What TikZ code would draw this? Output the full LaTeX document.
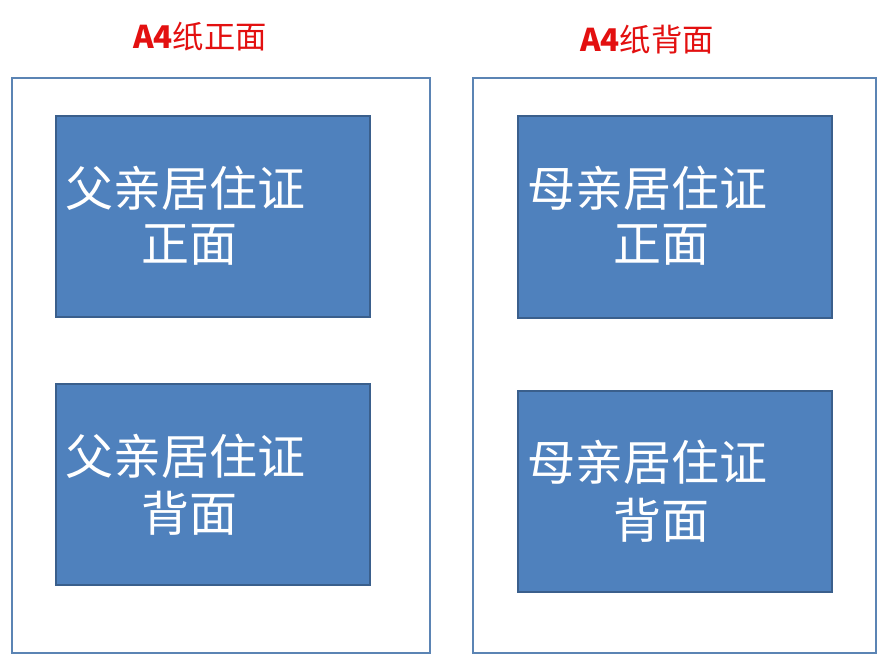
\documentclass[tikz,border=0pt]{standalone}
\usepackage{fontspec}
\setmainfont{Liberation Sans}
\newfontfamily\cjk{Noto Sans CJK SC}
\definecolor{pagecol}{HTML}{5B84B4}
\definecolor{cardfill}{HTML}{4F81BD}
\definecolor{cardline}{HTML}{3A5F8C}
\definecolor{titlered}{HTML}{E31010}
\begin{document}
\begin{tikzpicture}[x=0.75pt,y=-0.75pt,
  page/.style={draw=pagecol,line width=2pt},
  card/.style={draw=cardline,fill=cardfill,line width=2pt},
  cardtext/.style={text=white,font=\cjk\fontsize{36}{42}\selectfont,inner sep=0pt},
  titletext/.style={text=titlered,font=\cjk\fontsize{23.5}{28}\selectfont,inner sep=0pt}]
\useasboundingbox (0,0) rectangle (887,665);
\fill[white] (0,0) rectangle (887,665);
% pages
\draw[page] (12,78) rectangle (430,653);
\draw[page] (473,78) rectangle (876,653);
% titles
\node[titletext] (t1) at (200,37) {{\bfseries A4}纸正面};
\node[titletext] (t2) at (647,40) {{\bfseries A4}纸背面};
% cards
\draw[card] (56,116) rectangle (370,317);
\draw[card] (56,384) rectangle (370,585);
\draw[card] (518,116) rectangle (832,318);
\draw[card] (518,391) rectangle (832,592);
% card texts
\node[cardtext] (a1) at (185,188) {父亲居住证};
\node[cardtext] (a2) at (189,245) {正面};
\node[cardtext] (b1) at (185,456) {父亲居住证};
\node[cardtext] (b2) at (189,513) {背面};
\node[cardtext] (c1) at (647,188) {母亲居住证};
\node[cardtext] (c2) at (661,245) {正面};
\node[cardtext] (d1) at (647,462) {母亲居住证};
\node[cardtext] (d2) at (661,520) {背面};
\end{tikzpicture}
\end{document}
